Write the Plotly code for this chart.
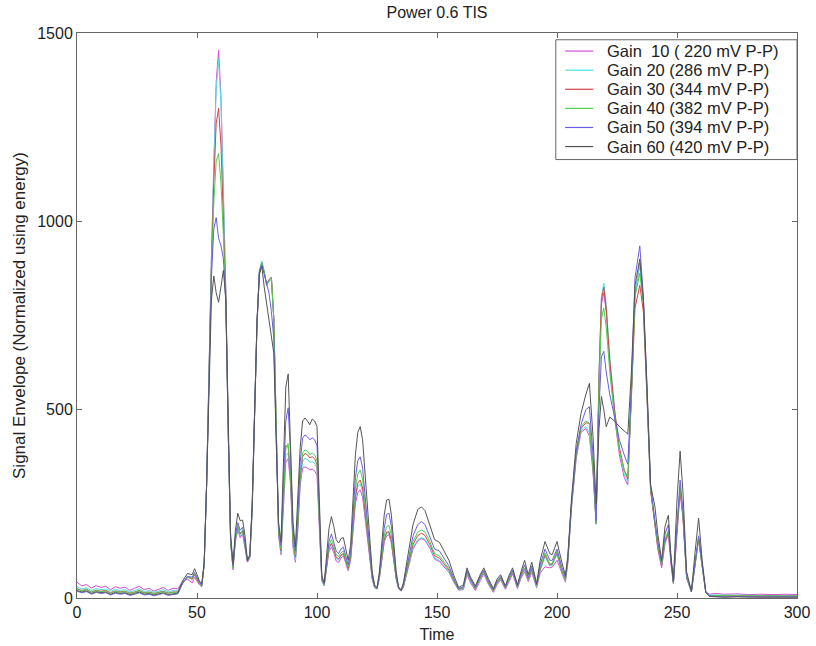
import plotly.graph_objects as go

time = [0, 2, 4, 6, 8, 10, 12, 14, 16, 18, 20, 22, 24, 26, 28, 30, 32, 34, 36, 38, 40, 42, 44,
        46, 48, 49, 50, 51, 52,
        53, 54, 55, 56, 57, 58, 59, 60, 61, 62, 63, 64, 65,
        66, 67, 68, 69, 70, 71, 72, 73, 74, 75, 76, 77, 78, 79, 80, 81, 82, 83,
        84, 85, 86, 87, 88, 89, 90, 91, 92, 93, 94, 95, 96, 97, 98, 99, 100, 101, 102, 103,
        104, 105, 106, 107, 108, 109, 110, 111, 112, 113, 114, 115, 116, 117, 118, 119,
        120, 121, 122, 123, 124, 125, 126, 127, 128, 129, 130, 131, 132, 133, 134, 135,
        136, 138, 140, 142, 143.5, 145, 147, 149, 151, 153, 155, 157, 159,
        161, 162.5, 164, 166, 168, 169.5, 171.5, 173.5, 175, 176.5, 178.5, 180, 181.5,
        183.5, 185, 186.5, 188, 189.5, 191.5, 193, 195, 197, 198, 200, 202, 203.5,
        204.5, 206, 208, 210, 212, 213.5, 215, 216.3, 217.5, 218.5, 219.5, 220.5, 222, 224, 226, 228, 229.5,
        231, 232.5, 234.5, 236, 237.5, 239, 240.8, 242, 243.6, 245, 246.4, 247.5, 248.5, 250,
        251.3, 252.5, 254, 256, 257.5, 259, 260.5, 262, 263.5,
        266, 270, 275, 280, 285, 290, 295, 300]

gain10 = [42, 32, 36, 26, 33, 28, 31, 22, 30, 26, 29, 20, 26, 31, 22, 26, 18, 23, 28, 20, 26, 24, 45,
          50, 40, 55, 45, 35, 30,
          90, 300, 620, 900, 1150, 1370, 1455, 1330, 1080, 820, 460, 150, 75,
          150, 180, 160, 170, 135, 95, 105, 230, 480, 720, 860, 885, 865, 835, 845, 850, 740, 430,
          165, 115, 230, 360, 370, 300, 135, 95, 180, 300, 345, 348, 345, 340, 342, 338, 325, 180, 45, 32,
          80, 125, 135, 120, 98, 94, 106, 112, 92, 72, 100, 178, 250, 280, 287, 268,
          214, 155, 96, 50, 27, 24, 52, 106, 148, 165, 168, 145, 93, 50, 25, 18,
          29, 82, 130, 152, 158, 153, 132, 103, 97, 82, 68, 42, 21,
          22, 62, 40, 20, 46, 64, 35, 15, 35, 48, 23, 45, 64,
          25, 52, 70, 44, 68, 27, 66, 83, 80, 82, 100, 65, 42,
          92, 235, 370, 440, 450, 430, 335, 198, 580, 780, 810, 760, 620, 480, 380, 320, 300,
          530, 800, 890, 780, 540, 288, 195, 130, 80, 145, 170, 88, 38, 180,
          280, 210, 52, 16, 90, 155, 82, 16, 10,
          12, 10, 11, 9, 10, 9, 10, 9]

gain20 = [30, 24, 27, 20, 25, 22, 24, 18, 23, 20, 22, 16, 20, 24, 17, 20, 15, 18, 22, 16, 20, 19, 42,
          55, 50, 62, 50, 38, 32,
          90, 300, 620, 900, 1140, 1350, 1430, 1310, 1060, 810, 450, 150, 80,
          155, 185, 165, 175, 140, 98, 108, 235, 490, 730, 870, 895, 870, 830, 840, 845, 740, 430,
          170, 120, 240, 380, 385, 310, 140, 100, 185, 310, 362, 371, 368, 360, 362, 358, 345, 190, 48, 33,
          85, 132, 142, 128, 105, 100, 112, 117, 96, 76, 104, 186, 265, 296, 303, 283,
          225, 163, 100, 52, 28, 24, 54, 110, 153, 172, 173, 150, 96, 51, 25, 19,
          30, 85, 135, 155, 160, 156, 135, 106, 100, 85, 70, 44, 22,
          25, 68, 44, 24, 50, 68, 38, 18, 38, 51, 26, 48, 68,
          28, 57, 76, 48, 73, 30, 72, 110, 85, 87, 116, 70, 46,
          98, 240, 375, 445, 455, 440, 340, 195, 600, 800, 836, 780, 640, 500, 390, 330, 308,
          540, 810, 885, 790, 545, 290, 200, 138, 88, 150, 175, 92, 40, 185,
          296, 218, 55, 17, 94, 160, 85, 15, 8,
          8, 7, 8, 7, 7, 6, 7, 6]

gain30 = [25, 20, 23, 16, 21, 18, 20, 14, 19, 16, 18, 13, 16, 20, 14, 16, 12, 15, 18, 13, 16, 16, 40,
          55, 50, 62, 50, 38, 32,
          90, 300, 610, 880, 1100, 1260, 1300, 1200, 1000, 800, 450, 150, 80,
          160, 190, 170, 180, 145, 100, 110, 240, 490, 730, 865, 890, 865, 830, 845, 852, 745, 430,
          175, 125, 250, 405, 400, 320, 150, 110, 195, 320, 375, 384, 380, 372, 375, 370, 355, 195, 50, 35,
          85, 133, 145, 130, 108, 104, 114, 118, 98, 78, 106, 190, 270, 305, 313, 292,
          232, 168, 104, 54, 29, 25, 55, 112, 155, 175, 176, 152, 98, 52, 26, 19,
          30, 88, 142, 166, 172, 166, 142, 112, 106, 90, 74, 46, 23,
          27, 70, 46, 25, 53, 70, 40, 19, 40, 53, 27, 50, 70,
          29, 60, 78, 50, 76, 32, 76, 115, 88, 90, 120, 72, 48,
          100, 245, 380, 450, 465, 464, 345, 198, 590, 790, 825, 770, 630, 500, 400, 340, 316,
          530, 770, 830, 760, 530, 285, 195, 135, 88, 150, 175, 92, 40, 185,
          289, 215, 55, 17, 93, 158, 85, 14, 6,
          6, 5, 6, 5, 5, 5, 5, 5]

gain40 = [24, 19, 22, 15, 20, 17, 19, 13, 18, 15, 17, 12, 15, 19, 13, 15, 11, 14, 17, 12, 15, 15, 40,
          55, 52, 64, 52, 40, 33,
          90, 300, 600, 870, 1050, 1160, 1180, 1100, 960, 790, 440, 150, 80,
          160, 190, 172, 180, 145, 100, 110, 240, 490, 730, 865, 890, 865, 830, 842, 850, 740, 430,
          180, 130, 260, 400, 410, 330, 160, 115, 200, 330, 385, 393, 390, 380, 385, 380, 365, 200, 50, 35,
          90, 140, 155, 138, 115, 110, 120, 125, 103, 82, 112, 200, 290, 330, 340, 315,
          250, 180, 110, 57, 30, 25, 58, 118, 165, 190, 193, 165, 105, 55, 27, 20,
          32, 92, 150, 175, 181, 175, 150, 118, 112, 95, 78, 48, 24,
          28, 72, 48, 26, 55, 72, 42, 20, 42, 55, 28, 52, 72,
          30, 62, 80, 52, 80, 33, 80, 120, 90, 92, 124, 75, 50,
          100, 245, 385, 455, 470, 464, 350, 200, 560, 740, 770, 720, 600, 480, 390, 340, 320,
          540, 800, 862, 780, 540, 290, 200, 140, 90, 155, 180, 95, 40, 190,
          296, 220, 55, 17, 95, 160, 85, 14, 6,
          7, 6, 6, 6, 6, 5, 6, 5]

gain50 = [18, 14, 17, 10, 15, 12, 14, 8, 13, 10, 12, 7, 10, 14, 8, 10, 6, 9, 12, 7, 10, 11, 38,
          58, 55, 68, 55, 42, 35,
          90, 300, 590, 850, 980, 1010, 955, 935, 900, 790, 440, 160, 85,
          165, 200, 180, 188, 150, 100, 112, 245, 495, 735, 870, 885, 860, 835, 810, 760, 690, 420,
          190, 140, 300, 470, 505, 380, 180, 125, 220, 360, 425, 433, 428, 420, 425, 420, 405, 220, 55, 38,
          95, 150, 170, 150, 125, 118, 130, 135, 110, 88, 120, 220, 320, 365, 375, 345,
          275, 195, 120, 60, 32, 26, 62, 130, 185, 222, 225, 190, 120, 60, 28, 20,
          35, 100, 165, 195, 203, 195, 165, 130, 125, 105, 85, 52, 25,
          30, 74, 50, 28, 58, 74, 45, 22, 45, 57, 30, 55, 74,
          32, 65, 88, 55, 85, 35, 88, 130, 100, 100, 130, 82, 55,
          105, 250, 390, 460, 500, 508, 380, 205, 500, 640, 655, 600, 540, 480, 420, 380, 355,
          560, 850, 935, 800, 560, 300, 205, 150, 95, 170, 195, 100, 42, 200,
          313, 230, 60, 18, 100, 165, 90, 15, 6,
          4, 3, 4, 3, 3, 3, 3, 3]

gain60 = [20, 16, 19, 12, 17, 14, 16, 10, 15, 12, 14, 9, 12, 16, 10, 12, 8, 11, 14, 9, 12, 13, 45,
          65, 62, 78, 62, 45, 38,
          95, 300, 560, 790, 855, 810, 785, 830, 870, 790, 430, 170, 90,
          180, 225, 205, 207, 165, 100, 115, 250, 500, 735, 860, 880, 826, 780, 738, 700, 650, 420,
          200, 150, 350, 560, 595, 420, 200, 135, 250, 400, 470, 478, 470, 460, 475, 470, 455, 250, 60, 40,
          110, 185, 216, 190, 155, 146, 158, 160, 130, 100, 140, 260, 380, 440, 455, 420,
          330, 230, 140, 70, 35, 27, 70, 150, 220, 260, 262, 220, 140, 70, 30, 21,
          40, 120, 195, 235, 242, 232, 195, 155, 148, 125, 100, 60, 28,
          35, 80, 55, 32, 62, 80, 50, 25, 50, 62, 32, 60, 80,
          35, 70, 100, 62, 95, 38, 100, 150, 118, 115, 150, 95, 60,
          110, 260, 410, 490, 540, 570, 430, 250, 450, 535, 500, 455, 480, 470, 455, 445, 435,
          600, 830, 900, 790, 560, 300, 243, 170, 100, 190, 220, 110, 45, 260,
          390, 280, 70, 18, 120, 212, 100, 15, 4,
          3, 2, 3, 2, 2, 2, 2, 2]

names = ["Gain \u00a010 (\u00a0220 mV P-P)", "Gain 20 (286 mV P-P)", "Gain 30 (344 mV P-P)",
         "Gain 40 (382 mV P-P)", "Gain 50 (394 mV P-P)", "Gain 60 (420 mV P-P)"]
series = [gain10, gain20, gain30, gain40, gain50, gain60]
colors = ["#d24fd2", "#4fe0e0", "#d24646", "#4fcf4f", "#6a5fe0", "#555555"]

x_ticks = [0, 50, 100, 150, 200, 250, 300]
y_ticks = [0, 500, 1000, 1500]

FONT = "Liberation Sans, Arial, sans-serif"

fig = go.Figure()
for name, ys, col in zip(names, series, colors):
    fig.add_trace(go.Scatter(x=time, y=ys, mode="lines", name=name, showlegend=False,
                             line=dict(color=col, width=1)))

# Compact MATLAB-style legend box (paper coordinates), drawn on top of the lines
leg_left, leg_right, leg_top, leg_bottom = 0.665, 1.0, 0.988, 0.776
row_top, row_step = 0.968, 0.0338
shapes = [dict(type="rect", xref="paper", yref="paper", x0=leg_left, x1=leg_right,
               y0=leg_bottom, y1=leg_top, fillcolor="white",
               line=dict(color="#666666", width=1), layer="above")]
annotations = []
for i, (name, col) in enumerate(zip(names, colors)):
    yy = row_top - i * row_step
    shapes.append(dict(type="line", xref="paper", yref="paper", x0=0.678, x1=0.717,
                       y0=yy, y1=yy, line=dict(color=col, width=1.2), layer="above"))
    annotations.append(dict(xref="paper", yref="paper", x=0.733, y=yy, text=name,
                            showarrow=False, xanchor="left", yanchor="middle",
                            font=dict(family=FONT, size=16.5, color="#222222")))

axis_common = dict(showline=True, linecolor="#666666", linewidth=1, mirror="ticks",
                   ticks="inside", ticklen=5, tickcolor="#666666", showgrid=False,
                   zeroline=False, automargin=False,
                   tickfont=dict(family=FONT, size=16, color="#222222"))

fig.update_layout(
    width=816, height=646,
    margin=dict(l=77, r=19, t=33, b=48),
    paper_bgcolor="white", plot_bgcolor="white",
    font=dict(family=FONT, size=16, color="#222222"),
    title=dict(text="Power 0.6 TIS", x=0.5, xref="paper", xanchor="center", y=0.981,
               yanchor="middle", font=dict(family=FONT, size=16)),
    xaxis=dict(range=[0, 300], tickvals=x_ticks,
               title=dict(text="Time", standoff=8, font=dict(family=FONT, size=16)),
               **axis_common),
    yaxis=dict(range=[0, 1500], tickvals=y_ticks,
               title=dict(text="Signal Envelope (Normalized using energy)", standoff=7,
                          font=dict(family=FONT, size=17)), **axis_common),
    shapes=shapes,
    annotations=annotations,
    showlegend=False,
)

fig.write_html("out.html")
